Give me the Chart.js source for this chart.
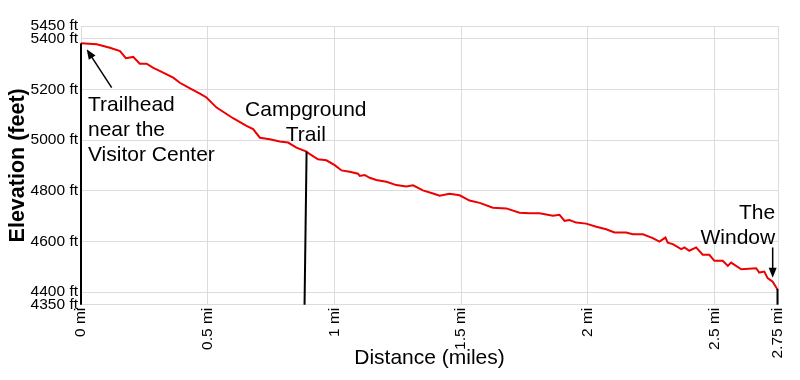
<!DOCTYPE html>
<html>
<head>
<meta charset="utf-8">
<script src="https://cdn.jsdelivr.net/npm/chart.js@4/dist/chart.umd.min.js"></script>
<style>
  html, body { margin: 0; padding: 0; background: #fff; }
  #wrap { width: 800px; height: 380px; }
</style>
</head>
<body>
<div id="wrap"><canvas id="profileChart" width="800" height="380"></canvas></div>
<script>
// distance along the trail (miles) and elevation (feet)
const distances = [0, 0.062, 0.114, 0.154, 0.177, 0.206, 0.232, 0.259, 0.285, 0.298, 0.324, 0.364, 0.390, 0.430, 0.469, 0.495,
  0.535, 0.600, 0.653, 0.679, 0.706, 0.745, 0.784, 0.817, 0.850, 0.890, 0.903, 0.935, 0.968, 1.001, 1.028, 1.060,
  1.093, 1.100, 1.119, 1.139, 1.165, 1.205, 1.244, 1.284, 1.310, 1.349, 1.389, 1.415, 1.454, 1.494, 1.533, 1.573,
  1.625, 1.678, 1.730, 1.770, 1.809, 1.862, 1.888, 1.908, 1.927, 1.954, 1.993, 2.033, 2.072, 2.105, 2.151, 2.177,
  2.217, 2.256, 2.282, 2.306, 2.315, 2.335, 2.368, 2.381, 2.400, 2.427, 2.453, 2.479, 2.499, 2.532, 2.552, 2.565,
  2.605, 2.664, 2.676, 2.696, 2.709, 2.729, 2.745, 2.75];
const elevations = [5382, 5378, 5364, 5351, 5323, 5328, 5301, 5301, 5285, 5279, 5266, 5246, 5226, 5204, 5183, 5168,
  5128, 5086, 5056, 5043, 5009, 5003, 4994, 4990, 4970, 4954, 4944, 4924, 4920, 4901, 4880, 4875,
  4867, 4858, 4862, 4851, 4842, 4835, 4822, 4817, 4821, 4801, 4789, 4780, 4788, 4782, 4761, 4752,
  4733, 4730, 4713, 4711, 4711, 4701, 4705, 4681, 4684, 4674, 4670, 4658, 4648, 4635, 4635, 4628,
  4628, 4613, 4599, 4615, 4595, 4589, 4569, 4576, 4563, 4576, 4547, 4547, 4523, 4523, 4503, 4516,
  4490, 4494, 4477, 4481, 4455, 4441, 4415, 4408];

const xTicks = [0, 0.5, 1, 1.5, 2, 2.5, 2.75];
const yTicks = [4350, 4400, 4600, 4800, 5000, 5200, 5400, 5450];

// waypoint labels: vertical marker [x, topElev, bottomX], arrow [x1,y1,x2,y2], text lines
const waypointNames = [["Trailhead", "near the", "Visitor Center"], ["Campground", "Trail"], ["The", "Window"]];
const markerLines = [[0, 5382, 0], [0.89, 4954, 0.882], [2.748, 4412, 2.748]];
const arrows = [[0.121, 5207, 0.0225, 5358], null, [2.729, 4576, 2.729, 4456]];
const labelAnchors = [[0.0276, 5115, "left"], [0.887, 5093, "center"], [2.739, 4689, "right"]];

const FONT = "'Liberation Sans', Arial, sans-serif";

const waypointPlugin = {
  id: "waypoints",
  afterDatasetsDraw(chart) {
    const ctx = chart.ctx;
    const xs = chart.scales.x, ys = chart.scales.y;
    const bottom = ys.min;
    ctx.save();
    ctx.strokeStyle = "#000";
    ctx.fillStyle = "#000";

    markerLines.forEach(m => {
      ctx.lineWidth = 2;
      ctx.beginPath();
      ctx.moveTo(xs.getPixelForValue(m[0]), ys.getPixelForValue(m[1]));
      ctx.lineTo(xs.getPixelForValue(m[2]), ys.getPixelForValue(bottom));
      ctx.stroke();
    });

    arrows.forEach(a => {
      if (!a) return;
      const x1 = xs.getPixelForValue(a[0]), y1 = ys.getPixelForValue(a[1]);
      const x2 = xs.getPixelForValue(a[2]), y2 = ys.getPixelForValue(a[3]);
      const ang = Math.atan2(y2 - y1, x2 - x1);
      ctx.lineWidth = 1.5;
      ctx.beginPath();
      ctx.moveTo(x1, y1);
      ctx.lineTo(x2 - 6 * Math.cos(ang), y2 - 6 * Math.sin(ang));
      ctx.stroke();
      ctx.beginPath();
      ctx.moveTo(x2, y2);
      ctx.lineTo(x2 - 10 * Math.cos(ang) + 4 * Math.sin(ang), y2 - 10 * Math.sin(ang) - 4 * Math.cos(ang));
      ctx.lineTo(x2 - 10 * Math.cos(ang) - 4 * Math.sin(ang), y2 - 10 * Math.sin(ang) + 4 * Math.cos(ang));
      ctx.closePath();
      ctx.fill();
    });

    ctx.font = "21px " + FONT;
    ctx.textBaseline = "alphabetic";
    waypointNames.forEach((lines, i) => {
      const [lx, ly, align] = labelAnchors[i];
      ctx.textAlign = align;
      const px = xs.getPixelForValue(lx), py = ys.getPixelForValue(ly);
      lines.forEach((t, j) => ctx.fillText(t, px, py + j * 25));
    });
    ctx.restore();
  }
};

const ctx = document.getElementById("profileChart").getContext("2d");

new Chart(ctx, {
  type: "line",
  data: {
    datasets: [{
      data: distances.map((d, i) => ({ x: d, y: elevations[i] })),
      borderColor: "#ee0000",
      borderWidth: 2,
      pointRadius: 0,
      tension: 0,
      fill: false
    }]
  },
  options: {
    responsive: false,
    animation: false,
    layout: { padding: { top: 26, right: 22, left: 0, bottom: 0 } },
    plugins: { legend: { display: false }, tooltip: { enabled: false } },
    scales: {
      x: {
        type: "linear",
        min: 0,
        max: 2.75,
        afterBuildTicks: s => { s.ticks = xTicks.map(v => ({ value: v })); },
        afterFit: s => { s.height = 75.3; },
        grid: { color: "#dcdcdc", drawTicks: false },
        border: { color: "#dcdcdc" },
        ticks: {
          autoSkip: false,
          minRotation: 90,
          maxRotation: 90,
          padding: 3,
          color: "#000",
          font: { family: FONT, size: 15.5 },
          callback: v => v + " mi"
        },
        title: {
          display: true,
          text: "Distance (miles)",
          color: "#000",
          font: { family: FONT, size: 21 },
          padding: { top: 0, bottom: 9 }
        }
      },
      y: {
        min: 4350,
        max: 5450,
        afterBuildTicks: s => { s.ticks = yTicks.map(v => ({ value: v })); },
        afterFit: s => { s.width = 81; },
        grid: { color: "#dcdcdc", drawTicks: false },
        border: { color: "#dcdcdc" },
        ticks: {
          padding: 3,
          color: "#000",
          font: { family: FONT, size: 15.5 },
          callback: v => v + " ft"
        },
        title: {
          display: true,
          text: "Elevation (feet)",
          color: "#000",
          font: { family: FONT, size: 21.5, weight: "bold" },
          padding: { top: 5, bottom: 0 }
        }
      }
    }
  },
  plugins: [waypointPlugin]
});
</script>
</body>
</html>
